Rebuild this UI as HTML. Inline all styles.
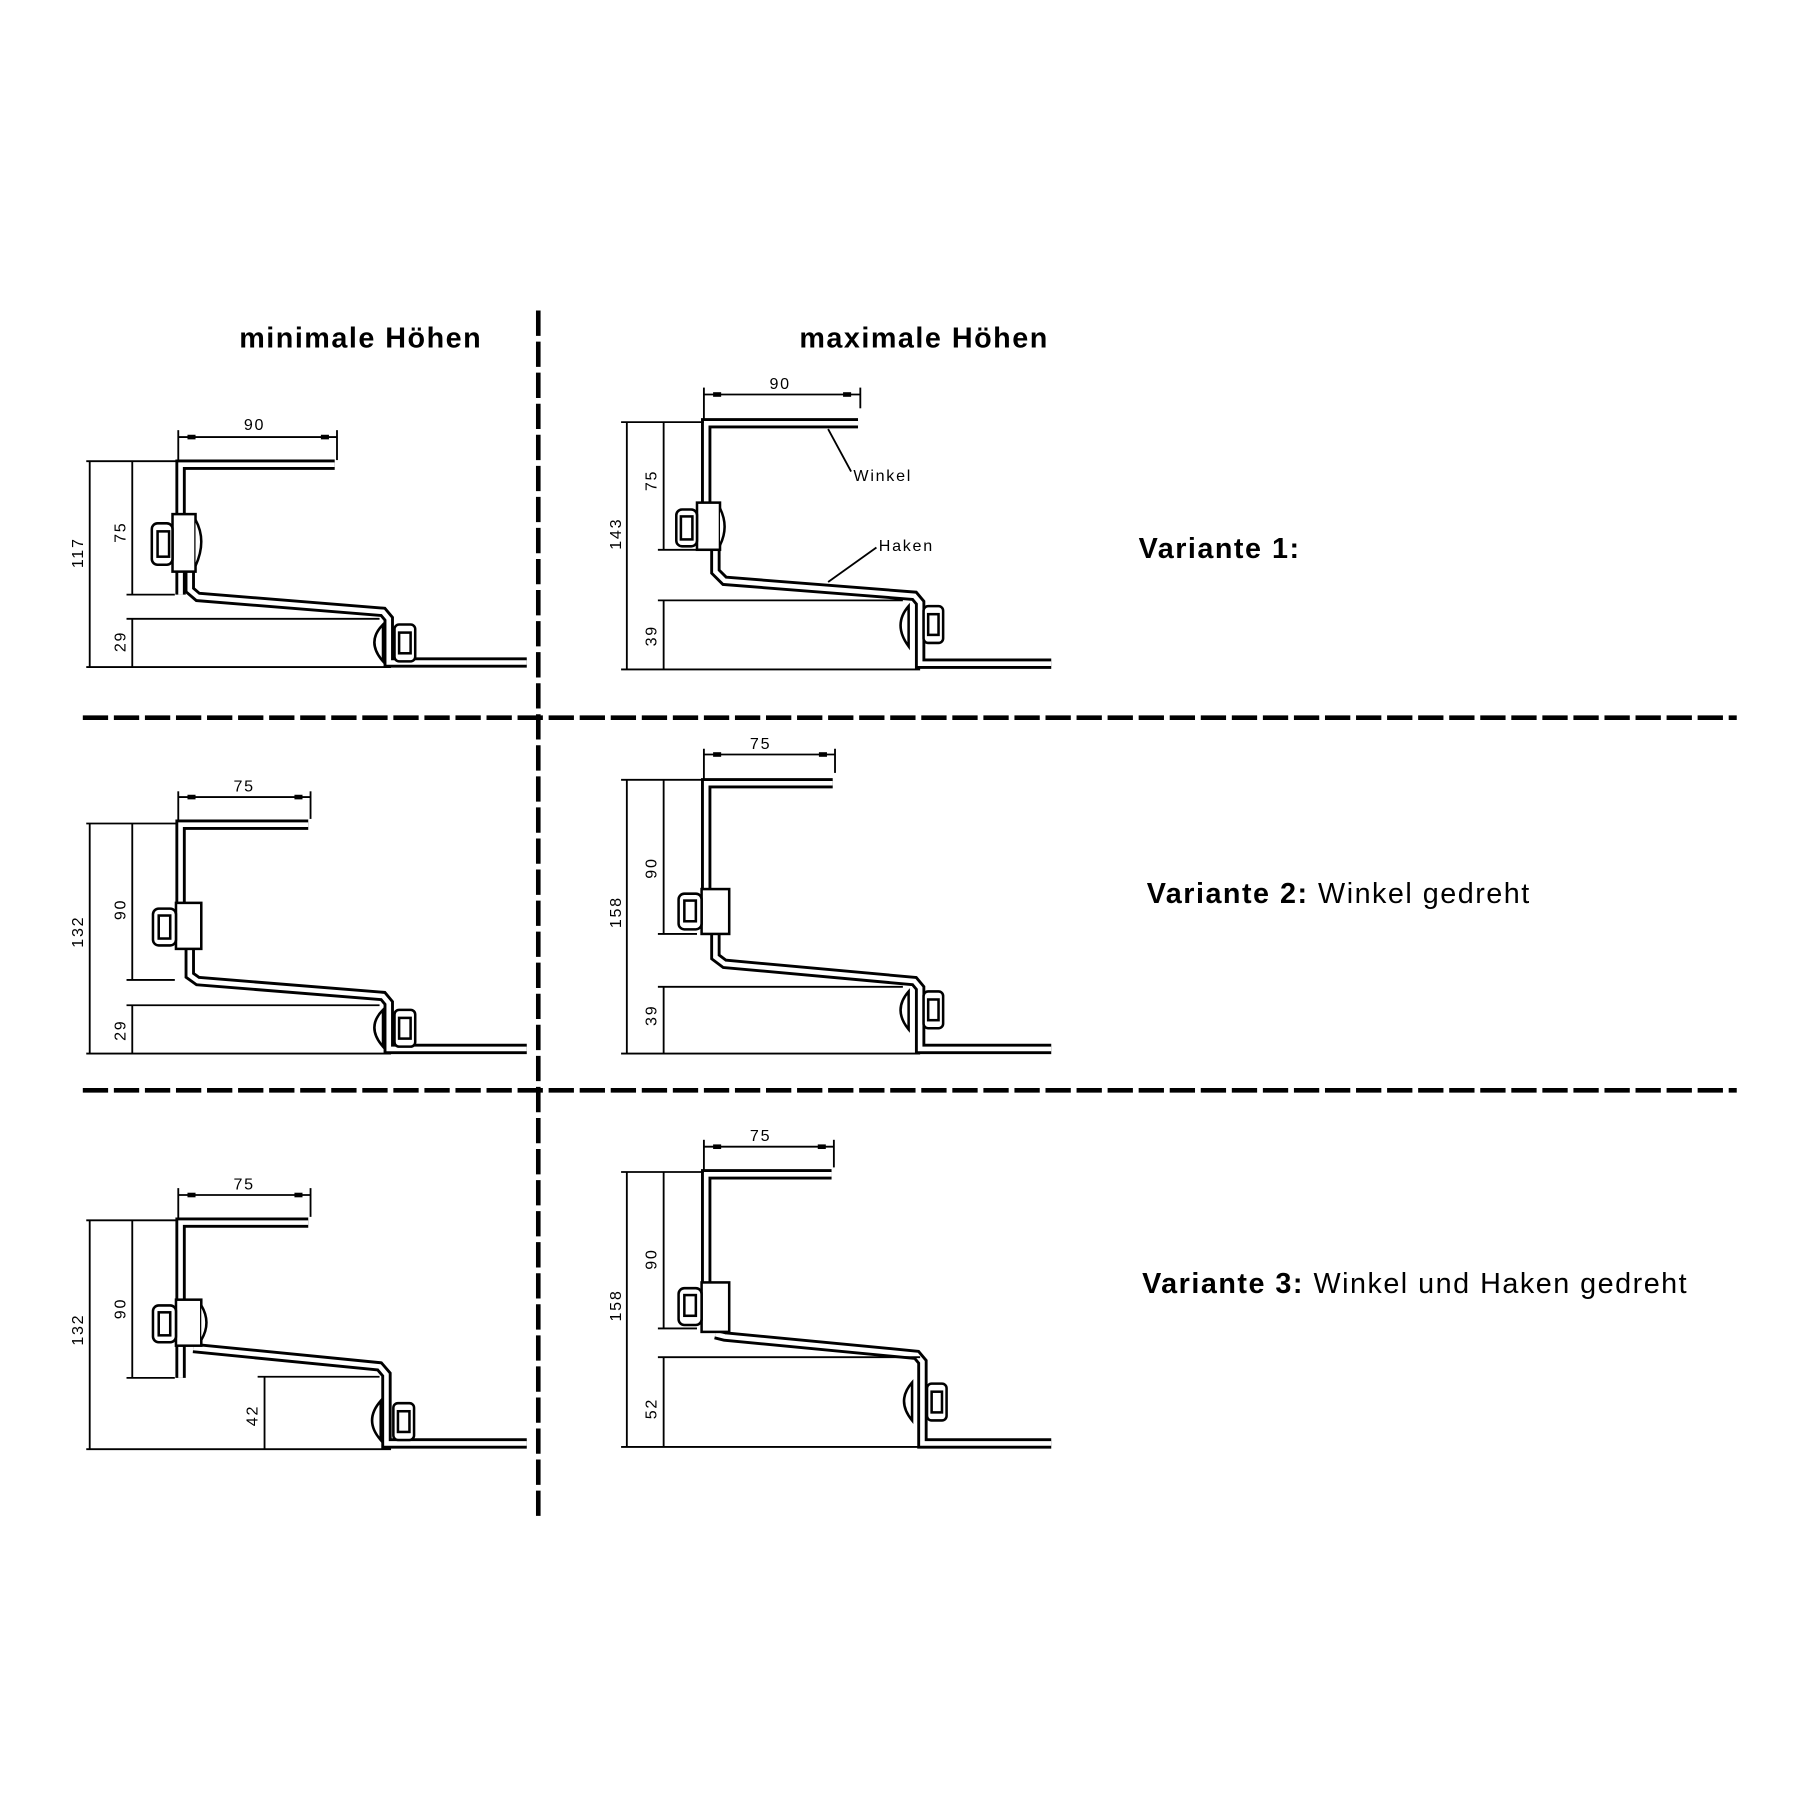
<!DOCTYPE html>
<html><head><meta charset="utf-8"><style>html,body{margin:0;padding:0;background:#fff}svg{display:block}</style></head>
<body>
<svg xmlns="http://www.w3.org/2000/svg" width="1800" height="1800" viewBox="0 0 1565 1565">
<defs>
<style>
.p{fill:none;stroke:#000;stroke-width:9;stroke-linejoin:miter}
.pi{fill:none;stroke:#fff;stroke-width:4;stroke-linejoin:miter}
.d{stroke:#000;stroke-width:1.6;fill:none}
.t{font-family:"Liberation Sans",sans-serif;font-size:14px;fill:#000;letter-spacing:1.5px}
.b{fill:#fff;stroke:#000;stroke-width:2.2}
.h{font-family:"Liberation Sans",sans-serif;font-size:25px;font-weight:bold;fill:#000;letter-spacing:1.3px}
.n{font-family:"Liberation Sans",sans-serif;font-size:25px;fill:#000;letter-spacing:1.3px}
</style>
</defs>
<rect width="1565" height="1565" fill="#fff"/>

<g stroke="#000" stroke-width="4" stroke-dasharray="22 5">
<line x1="468" y1="270" x2="468" y2="1320"/>
<line x1="72" y1="624" x2="1510" y2="624"/>
<line x1="72" y1="948" x2="1510" y2="948"/>
</g>

<text class="h" x="208" y="302">minimale Höhen</text>
<text class="h" x="695" y="302">maximale Höhen</text>
<text class="h" x="990" y="485">Variante 1:</text>
<text x="997" y="785"><tspan class="h">Variante 2:</tspan><tspan class="n"> Winkel gedreht</tspan></text>
<text x="993" y="1124"><tspan class="h">Variante 3:</tspan><tspan class="n"> Winkel und Haken gedreht</tspan></text>

<g>
<path class="p" d="M165,480 L165,513 L172,519 L333,532 L338,538 L338,576 L458,576"/>
<path class="pi" d="M165,480 L165,513 L172,519 L333,532 L338,538 L338,576 L458,576"/>
<path class="p" d="M157,517 L157,404 L291,404"/>
<path class="pi" d="M157,517 L157,404 L291,404"/>
<rect class="b" x="150" y="447" width="20" height="50"/>
<rect class="b" x="132" y="455" width="18" height="36" rx="5"/>
<rect class="b" x="137" y="462" width="10" height="22"/>
<path class="b" d="M170,452 Q180,470 170,492"/>
<path class="b" d="M333,543 Q318,558 333,575 Z"/>
<rect class="b" x="343" y="543" width="18" height="32" rx="4"/>
<rect class="b" x="347" y="550" width="10" height="18"/>
<line class="d" x1="155" y1="380" x2="293" y2="380"/><line class="d" x1="155" y1="374" x2="155" y2="400"/><line class="d" x1="293" y1="374" x2="293" y2="400"/>
<text class="t" x="212" y="374">90</text>
<line class="d" x1="75" y1="401" x2="153" y2="401"/>
<line class="d" x1="110" y1="517" x2="152" y2="517"/>
<line class="d" x1="110" y1="538" x2="330" y2="538"/>
<line class="d" x1="75" y1="580" x2="340" y2="580"/>
<line class="d" x1="78" y1="401" x2="78" y2="580"/>
<line class="d" x1="115" y1="401" x2="115" y2="517"/>
<line class="d" x1="115" y1="538" x2="115" y2="580"/>
<text class="t" transform="translate(72,494) rotate(-90)">117</text>
<text class="t" transform="translate(109,472) rotate(-90)">75</text>
<text class="t" transform="translate(109,567) rotate(-90)">29</text>
</g>

<g>
<path class="p" d="M622,478 L622,497 L630,505 L795,518 L800,524 L800,577 L914,577"/>
<path class="pi" d="M622,478 L622,497 L630,505 L795,518 L800,524 L800,577 L914,577"/>
<path class="p" d="M614,478 L614,368 L746,368"/>
<path class="pi" d="M614,478 L614,368 L746,368"/>
<rect class="b" x="606" y="437" width="20" height="41"/>
<rect class="b" x="588" y="443" width="18" height="32" rx="5"/>
<rect class="b" x="592" y="449" width="10" height="20"/>
<path class="b" d="M626,442 Q634,458 626,474"/>
<path class="b" d="M790,527 Q776,543 790,562 Z"/>
<rect class="b" x="803" y="527" width="17" height="32" rx="4"/>
<rect class="b" x="807" y="534" width="9" height="18"/>
<line class="d" x1="612" y1="343" x2="748" y2="343"/><line class="d" x1="612" y1="337" x2="612" y2="366"/><line class="d" x1="748" y1="337" x2="748" y2="355"/>
<text class="t" x="669" y="338">90</text>
<line class="d" x1="540" y1="367" x2="612" y2="367"/>
<line class="d" x1="572" y1="478" x2="606" y2="478"/>
<line class="d" x1="572" y1="522" x2="785" y2="522"/>
<line class="d" x1="540" y1="582" x2="800" y2="582"/>
<line class="d" x1="545" y1="367" x2="545" y2="582"/>
<line class="d" x1="577" y1="367" x2="577" y2="478"/>
<line class="d" x1="577" y1="522" x2="577" y2="582"/>
<text class="t" transform="translate(540,478) rotate(-90)">143</text>
<text class="t" transform="translate(571,427) rotate(-90)">75</text>
<text class="t" transform="translate(571,562) rotate(-90)">39</text>
<line class="d" x1="720" y1="373" x2="740" y2="410"/>
<text class="t" x="742" y="418">Winkel</text>
<line class="d" x1="720" y1="506" x2="762" y2="476"/>
<text class="t" x="764" y="479">Haken</text>
</g>

<g>
<path class="p" d="M165,825 L165,848 L172,853 L333,866 L338,872 L338,912 L458,912"/>
<path class="pi" d="M165,825 L165,848 L172,853 L333,866 L338,872 L338,912 L458,912"/>
<path class="p" d="M157,825 L157,717 L268,717"/>
<path class="pi" d="M157,825 L157,717 L268,717"/>
<rect class="b" x="153" y="785" width="22" height="40"/>
<rect class="b" x="133" y="790" width="20" height="32" rx="5"/>
<rect class="b" x="138" y="796" width="10" height="20"/>
<path class="b" d="M333,878 Q318,893 333,910 Z"/>
<rect class="b" x="343" y="878" width="18" height="32" rx="4"/>
<rect class="b" x="347" y="885" width="10" height="18"/>
<line class="d" x1="155" y1="693" x2="270" y2="693"/><line class="d" x1="155" y1="688" x2="155" y2="714"/><line class="d" x1="270" y1="688" x2="270" y2="712"/>
<text class="t" x="203" y="688">75</text>
<line class="d" x1="75" y1="716" x2="153" y2="716"/>
<line class="d" x1="110" y1="852" x2="152" y2="852"/>
<line class="d" x1="110" y1="874" x2="330" y2="874"/>
<line class="d" x1="75" y1="916" x2="340" y2="916"/>
<line class="d" x1="78" y1="716" x2="78" y2="916"/>
<line class="d" x1="115" y1="716" x2="115" y2="852"/>
<line class="d" x1="115" y1="874" x2="115" y2="916"/>
<text class="t" transform="translate(72,824) rotate(-90)">132</text>
<text class="t" transform="translate(109,800) rotate(-90)">90</text>
<text class="t" transform="translate(109,905) rotate(-90)">29</text>
</g>

<g>
<path class="p" d="M622,812 L622,832 L630,838 L795,853 L800,859 L800,912 L914,912"/>
<path class="pi" d="M622,812 L622,832 L630,838 L795,853 L800,859 L800,912 L914,912"/>
<path class="p" d="M614,812 L614,681 L724,681"/>
<path class="pi" d="M614,812 L614,681 L724,681"/>
<rect class="b" x="610" y="773" width="24" height="39"/>
<rect class="b" x="590" y="777" width="20" height="31" rx="5"/>
<rect class="b" x="595" y="783" width="10" height="18"/>
<path class="b" d="M790,862 Q776,878 790,895 Z"/>
<rect class="b" x="803" y="862" width="17" height="32" rx="4"/>
<rect class="b" x="807" y="869" width="9" height="18"/>
<line class="d" x1="612" y1="656" x2="726" y2="656"/><line class="d" x1="612" y1="651" x2="612" y2="678"/><line class="d" x1="726" y1="651" x2="726" y2="672"/>
<text class="t" x="652" y="651">75</text>
<line class="d" x1="540" y1="678" x2="612" y2="678"/>
<line class="d" x1="572" y1="812" x2="606" y2="812"/>
<line class="d" x1="572" y1="858" x2="785" y2="858"/>
<line class="d" x1="540" y1="916" x2="800" y2="916"/>
<line class="d" x1="545" y1="678" x2="545" y2="916"/>
<line class="d" x1="577" y1="678" x2="577" y2="812"/>
<line class="d" x1="577" y1="858" x2="577" y2="916"/>
<text class="t" transform="translate(540,807) rotate(-90)">158</text>
<text class="t" transform="translate(571,764) rotate(-90)">90</text>
<text class="t" transform="translate(571,892) rotate(-90)">39</text>
</g>

<g>
<path class="p" d="M168,1172 L330,1188 L336,1195 L336,1255 L458,1255"/>
<path class="pi" d="M168,1172 L330,1188 L336,1195 L336,1255 L458,1255"/>
<path class="p" d="M157,1198 L157,1063 L268,1063"/>
<path class="pi" d="M157,1198 L157,1063 L268,1063"/>
<rect class="b" x="153" y="1130" width="22" height="40"/>
<rect class="b" x="133" y="1135" width="20" height="32" rx="5"/>
<rect class="b" x="138" y="1141" width="10" height="20"/>
<path class="b" d="M175,1135 Q184,1150 175,1165"/>
<path class="b" d="M331,1218 Q316,1235 331,1252 Z"/>
<rect class="b" x="342" y="1220" width="18" height="32" rx="4"/>
<rect class="b" x="346" y="1227" width="10" height="18"/>
<line class="d" x1="155" y1="1039" x2="270" y2="1039"/><line class="d" x1="155" y1="1033" x2="155" y2="1060"/><line class="d" x1="270" y1="1033" x2="270" y2="1058"/>
<text class="t" x="203" y="1034">75</text>
<line class="d" x1="75" y1="1061" x2="153" y2="1061"/>
<line class="d" x1="110" y1="1198" x2="152" y2="1198"/>
<line class="d" x1="224" y1="1197" x2="330" y2="1197"/>
<line class="d" x1="75" y1="1260" x2="340" y2="1260"/>
<line class="d" x1="78" y1="1061" x2="78" y2="1260"/>
<line class="d" x1="115" y1="1061" x2="115" y2="1198"/>
<line class="d" x1="230" y1="1197" x2="230" y2="1260"/>
<text class="t" transform="translate(72,1170) rotate(-90)">132</text>
<text class="t" transform="translate(109,1147) rotate(-90)">90</text>
<text class="t" transform="translate(224,1240) rotate(-90)">42</text>
</g>

<g>
<path class="p" d="M622,1160 L630,1162 L797,1178 L802,1184 L802,1255 L914,1255"/>
<path class="pi" d="M622,1160 L630,1162 L797,1178 L802,1184 L802,1255 L914,1255"/>
<path class="p" d="M614,1155 L614,1021 L723,1021"/>
<path class="pi" d="M614,1155 L614,1021 L723,1021"/>
<rect class="b" x="610" y="1115" width="24" height="43"/>
<rect class="b" x="590" y="1120" width="20" height="32" rx="5"/>
<rect class="b" x="595" y="1126" width="10" height="18"/>
<path class="b" d="M793,1202 Q779,1218 793,1235 Z"/>
<rect class="b" x="806" y="1203" width="17" height="32" rx="4"/>
<rect class="b" x="810" y="1210" width="9" height="18"/>
<line class="d" x1="612" y1="997" x2="725" y2="997"/><line class="d" x1="612" y1="991" x2="612" y2="1018"/><line class="d" x1="725" y1="991" x2="725" y2="1015"/>
<text class="t" x="652" y="992">75</text>
<line class="d" x1="540" y1="1019" x2="612" y2="1019"/>
<line class="d" x1="572" y1="1155" x2="606" y2="1155"/>
<line class="d" x1="572" y1="1180" x2="800" y2="1180"/>
<line class="d" x1="540" y1="1258" x2="800" y2="1258"/>
<line class="d" x1="545" y1="1019" x2="545" y2="1258"/>
<line class="d" x1="577" y1="1019" x2="577" y2="1155"/>
<line class="d" x1="577" y1="1180" x2="577" y2="1258"/>
<text class="t" transform="translate(540,1149) rotate(-90)">158</text>
<text class="t" transform="translate(571,1104) rotate(-90)">90</text>
<text class="t" transform="translate(571,1234) rotate(-90)">52</text>
</g>

<g fill="#000">
<rect x="163" y="378" width="7" height="4"/><rect x="279" y="378" width="7" height="4"/>
<rect x="620" y="341" width="7" height="4"/><rect x="733" y="341" width="7" height="4"/>
<rect x="163" y="691" width="7" height="4"/><rect x="256" y="691" width="7" height="4"/>
<rect x="620" y="654" width="7" height="4"/><rect x="712" y="654" width="7" height="4"/>
<rect x="163" y="1037" width="7" height="4"/><rect x="256" y="1037" width="7" height="4"/>
<rect x="620" y="995" width="7" height="4"/><rect x="711" y="995" width="7" height="4"/>
</g>
</svg>
</body></html>
